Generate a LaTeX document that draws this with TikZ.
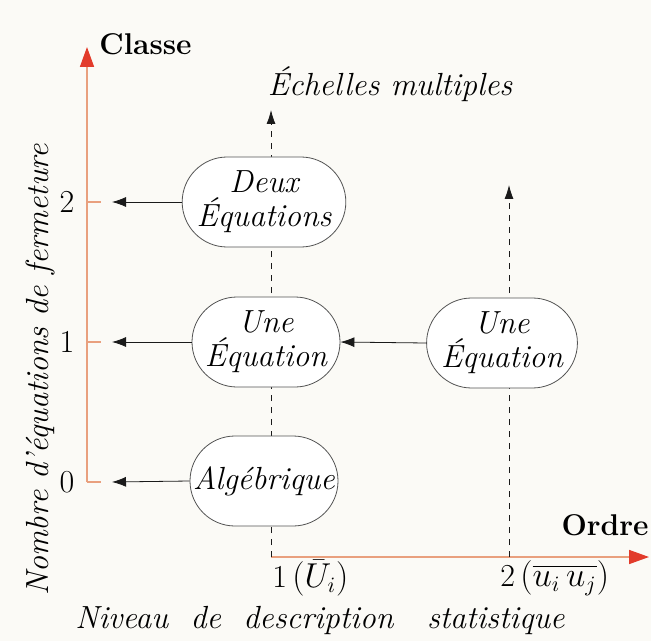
\documentclass[tikz,border=0pt]{standalone}
\usepackage{amsmath}
\usepackage{xcolor}
\usepackage{tikz}
\usetikzlibrary{arrows.meta,positioning,shapes.misc}
\definecolor{axorange}{HTML}{E9A07E}
\definecolor{axred}{HTML}{E23B2B}
\definecolor{paper}{HTML}{FBFAF6}
\definecolor{ink}{HTML}{1A1A1A}
\tikzset{
  niv/.style  = {rounded rectangle, draw=ink!75, thin, fill=white,
                 minimum width=76pt, minimum height=45pt, inner sep=1pt,
                 font=\fontsize{16}{17}\selectfont\itshape, align=center},
  ax/.style   = {draw=axorange, line width=0.8pt,
                 -{Triangle[length=10pt,width=7pt,color=axred]}},
  tk/.style   = {draw=axorange, line width=0.8pt},
  fl/.style   = {-{Latex[length=7pt,width=5pt]}, draw=ink, thin},
  dsh/.style  = {-{Latex[length=7pt,width=4.5pt]}, draw=ink, thin,
                 dash pattern=on 3pt off 3pt},
  lbl/.style  = {font=\fontsize{16}{18}\selectfont, inner sep=0pt},
  titre/.style= {font=\fontsize{15}{18}\selectfont\bfseries, inner sep=1pt},
}

\begin{document}
\begin{tikzpicture}[x=0.5pt,y=-0.5pt]
  \useasboundingbox[fill=paper] (0,0) rectangle (651,641);
  % axes
  \coordinate (vo) at (87,482);
  \coordinate (vt) at (87,47);
  \coordinate (ho) at (271,557);
  \coordinate (ht) at (649,557);
  \draw[ax] (vo) -- (vt);
  \draw[ax] (ho) -- (ht);
  \node[titre, anchor=west] (classe) at (97,44) {Classe};
  \node[titre, anchor=east] (ordre) at (651,525) {Ordre};
  % ticks on the vertical axis
  \foreach \y/\k in {202/2, 342/1, 482/0}{
    \draw[tk] (87,\y) -- (101,\y);
    \coordinate (t\k) at (112,\y);
    \node[lbl] (n\k) at (67,\y) {\k};
  }
  \node[lbl, rotate=90, font=\fontsize{16}{18}\selectfont\itshape] (nomb) at (40,370)
    {Nombre d'\'equations de fermeture};
  % levels
  \coordinate (d1) at (271,557);
  \coordinate (e1) at (271,110);
  \coordinate (d2) at (509,557);
  \coordinate (e2) at (509,185);
  \draw[dsh] (d1) -- (e1);
  \draw[dsh] (d2) -- (e2);
  \node[lbl, font=\fontsize{16}{18}\selectfont\itshape] (ech) at (390,84) {\'Echelles multiples};
  \node[niv] (deux) at (264,202) {Deux\\\'Equations};
  \node[niv] (unl)  at (266,342) {Une\\\'Equation};
  \node[niv] (alg)  at (264,481) {Alg\'ebrique};
  \node[niv, minimum width=68pt] (unr) at (502,343) {Une\\\'Equation};
  \draw[fl] (deux.west) -- (t2);
  \draw[fl] (unl.west) -- (t1);
  \draw[fl] (alg.west) -- (t0);
  \draw[fl] (unr.west) -- (unl.east);
  % labels under the horizontal axis
  \node[lbl, anchor=west] (l1) at (272,578) {1\,$(\bar{U}_i)$};
  \node[lbl, anchor=west] (l2) at (500,578) {2\,$(\overline{u_i\,u_j})$};
  \node[lbl, font=\fontsize{16}{18}\selectfont\itshape] (niv) at (320,620)
    {Niveau\ \ de\ \ description\ \ \ statistique};
\end{tikzpicture}
\end{document}
